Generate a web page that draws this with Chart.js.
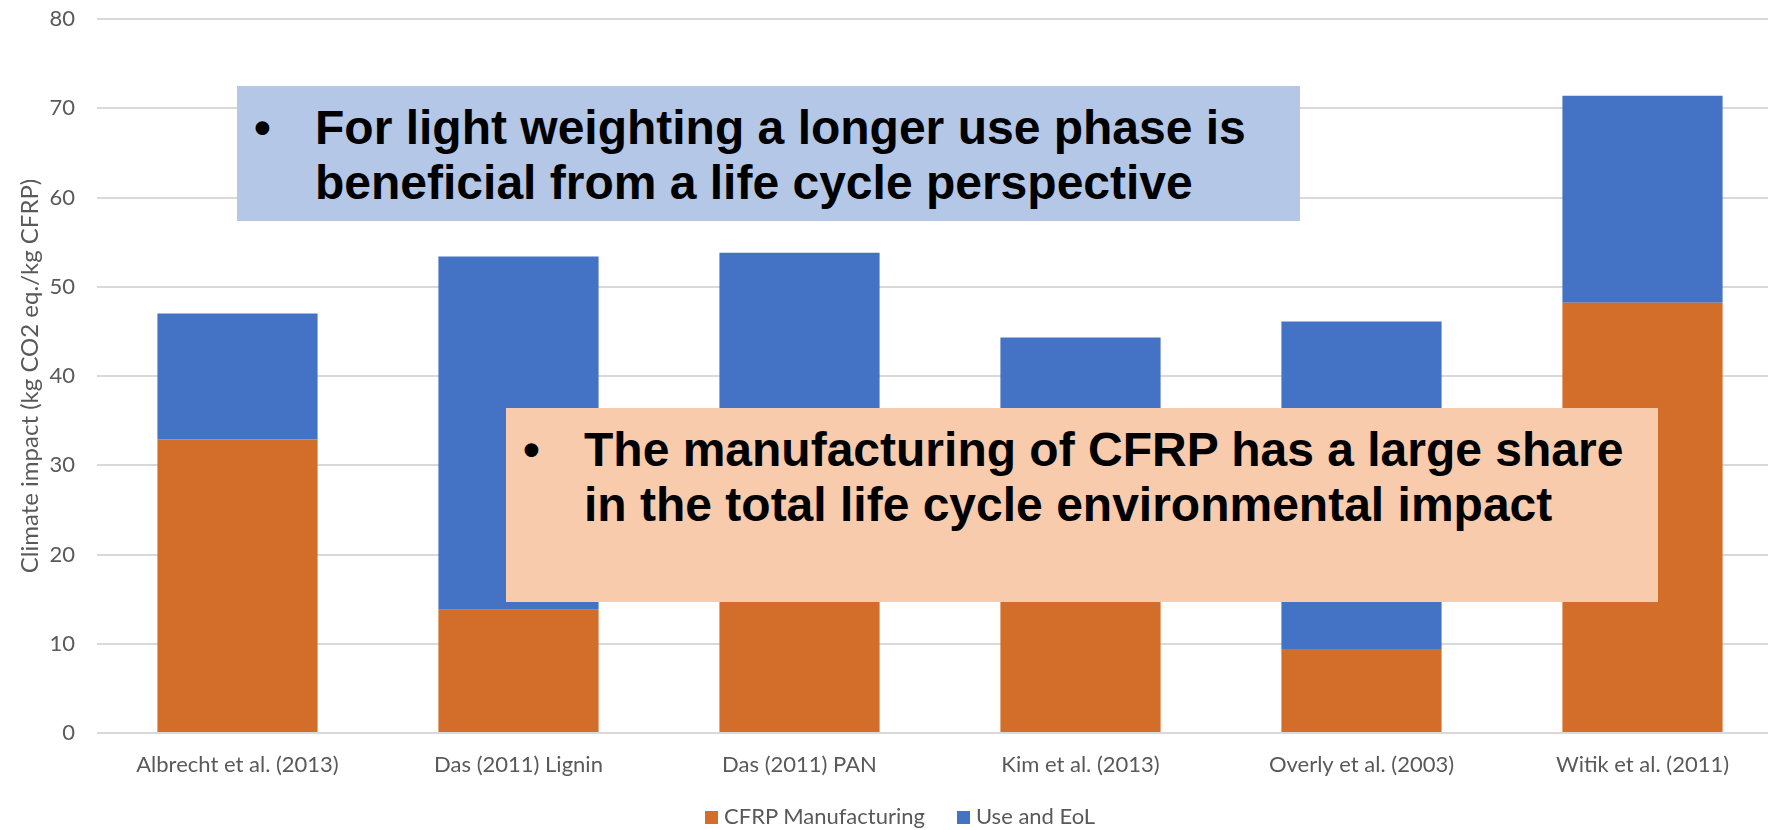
<!DOCTYPE html>
<html lang="en">
<head>
    <meta charset="UTF-8">
    <title>Climate impact of CFRP</title>
    <script src="https://cdn.jsdelivr.net/npm/chart.js"></script>
    <style>
        body {
            margin: 0;
            padding: 0;
            background-color: #ffffff;
            overflow: hidden;
        }

        #wrap {
            position: relative;
            width: 1790px;
            height: 830px;
        }

        .note {
            position: absolute;
            font-family: "Liberation Sans", Arial, sans-serif;
            font-weight: bold;
            font-size: 48px;
            line-height: 55px;
            color: #000000;
            box-sizing: border-box;
            padding-top: 14px;
            padding-left: 78px;
        }

        .note .dot {
            position: absolute;
            left: 17px;
        }

        #note1 {
            left: 237px;
            top: 86px;
            width: 1063px;
            height: 135px;
            background-color: #b4c7e7;
        }

        #note2 {
            left: 506px;
            top: 408px;
            width: 1152px;
            height: 194px;
            background-color: #f8cbad;
        }

        #legend {
            position: absolute;
            left: 705px;
            top: 802px;
            display: flex;
            gap: 32px;
            font-family: Lato, sans-serif;
            font-size: 22px;
            line-height: 28px;
            color: #595959;
        }

        #legend span.box {
            display: inline-block;
            width: 13px;
            height: 13px;
            margin-right: 6px;
        }
    </style>
</head>
<body>
<div id="wrap">
    <canvas id="barChart" width="1790" height="830"></canvas>
    <div class="note" id="note1"><span class="dot">•</span>For light weighting a longer use phase is<br>beneficial from a life cycle perspective</div>
    <div class="note" id="note2"><span class="dot">•</span>The manufacturing of CFRP has a large share<br>in the total life cycle environmental impact</div>
    <div id="legend"></div>
</div>

<script>
    // datos
    const studies = ['Albrecht et al. (2013)', 'Das (2011) Lignin', 'Das (2011) PAN', 'Kim et al. (2013)', 'Overly et al. (2003)', 'Witik et al. (2011)'];
    const manufacturing = [32.9, 13.8, 27, 30, 9.4, 48.2];
    const useEol = [14.1, 39.6, 26.8, 14.3, 36.7, 23.2];
    const seriesNames = ['CFRP Manufacturing', 'Use and EoL'];
    const seriesColors = ['#d26d2a', '#4472c4'];

    const ctx = document.getElementById('barChart').getContext('2d');

    const chart = new Chart(ctx, {
        type: 'bar',
        data: {
            labels: studies,
            datasets: [{
                label: seriesNames[0],
                data: manufacturing,
                backgroundColor: seriesColors[0]
            }, {
                label: seriesNames[1],
                data: useEol,
                backgroundColor: seriesColors[1]
            }]
        },
        options: {
            responsive: false,
            animation: false,
            layout: {
                padding: { top: 19, right: 7, left: 0, bottom: 0 }
            },
            datasets: {
                bar: {
                    categoryPercentage: 1,
                    barPercentage: 0.57
                }
            },
            plugins: {
                legend: { display: false },
                tooltip: { enabled: false }
            },
            scales: {
                x: {
                    stacked: true,
                    grid: { display: false, drawTicks: false },
                    border: { display: false },
                    ticks: {
                        font: { family: 'Lato', size: 22 },
                        color: '#595959',
                        padding: 19,
                        maxRotation: 0,
                        autoSkip: false
                    },
                    afterFit: function(scale) {
                        scale.height = 97;
                        scale.paddingLeft = 0;
                        scale.paddingRight = 0;
                    }
                },
                y: {
                    stacked: true,
                    min: 0,
                    max: 80,
                    grid: { color: '#d9d9d9', lineWidth: 2, drawTicks: false },
                    border: { display: false },
                    ticks: {
                        stepSize: 10,
                        font: { family: 'Lato', size: 22 },
                        color: '#595959',
                        padding: 22
                    },
                    title: {
                        display: true,
                        text: 'Climate impact (kg CO2 eq./kg CFRP)',
                        font: { family: 'Lato', size: 24 },
                        color: '#595959',
                        padding: { top: 16, bottom: 0 }
                    },
                    afterFit: function(scale) {
                        scale.width = 97;
                        scale.paddingTop = 0;
                        scale.paddingBottom = 0;
                    }
                }
            }
        }
    });

    // leyenda en html
    const legend = document.getElementById('legend');
    chart.data.datasets.forEach(ds => {
        const item = document.createElement('div');
        item.innerHTML = '<span class="box" style="background:' + ds.backgroundColor + '"></span>' + ds.label;
        legend.appendChild(item);
    });
</script>
</body>
</html>
